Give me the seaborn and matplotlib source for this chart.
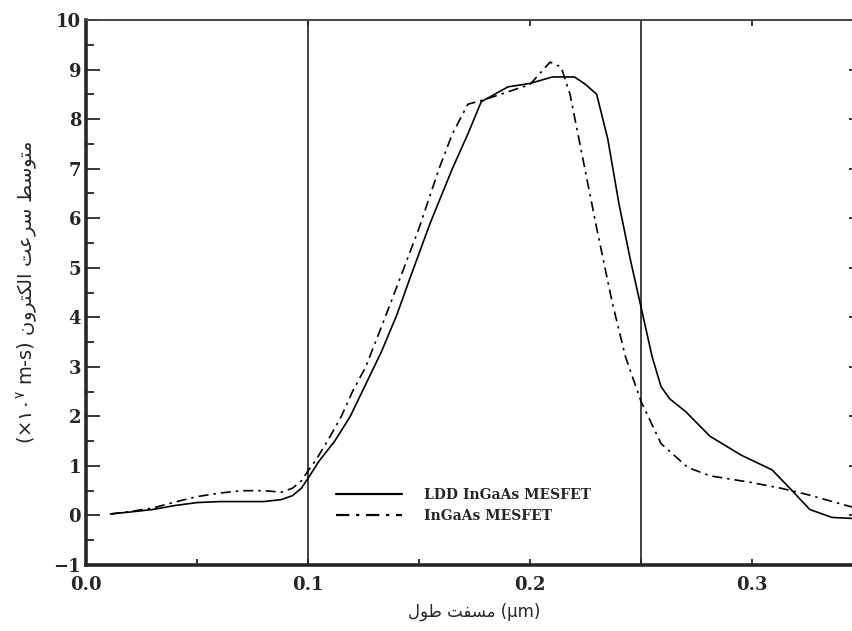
import numpy as np
import pandas as pd
import seaborn as sns
import matplotlib.pyplot as plt
from matplotlib.ticker import MultipleLocator

sns.set_style('ticks')
plt.rcParams['font.family'] = ['DejaVu Serif', 'DejaVu Sans']

# values
ldd_x = [0.011, 0.02, 0.03, 0.04, 0.05, 0.06, 0.07, 0.08, 0.088, 0.093, 0.097, 0.1,
         0.105, 0.112, 0.119, 0.126, 0.133, 0.14, 0.146, 0.155, 0.165, 0.172, 0.178, 0.19,
         0.2, 0.21, 0.22, 0.225, 0.23, 0.235, 0.24, 0.245, 0.25, 0.255, 0.259,
         0.263, 0.27, 0.281, 0.295, 0.309, 0.317, 0.326, 0.336, 0.345]
ldd_y = [0.03, 0.07, 0.12, 0.2, 0.26, 0.28, 0.28, 0.28, 0.32, 0.4, 0.55, 0.75,
         1.1, 1.5, 2.0, 2.65, 3.3, 4.05, 4.8, 5.9, 7.0, 7.7, 8.35, 8.65,
         8.72, 8.85, 8.85, 8.7, 8.5, 7.6, 6.3, 5.2, 4.2, 3.2, 2.6,
         2.35, 2.1, 1.6, 1.22, 0.92, 0.55, 0.12, -0.04, -0.06]

mes_x = [0.011, 0.02, 0.03, 0.04, 0.05, 0.06, 0.07, 0.08, 0.088, 0.093, 0.097, 0.1,
         0.104, 0.11, 0.115, 0.12, 0.126, 0.133, 0.139, 0.15, 0.159, 0.165, 0.172,
         0.18, 0.19, 0.2, 0.205, 0.209, 0.214, 0.218, 0.222, 0.226, 0.23, 0.237,
         0.243, 0.25, 0.259, 0.271, 0.281, 0.299, 0.313, 0.325, 0.345]
mes_y = [0.03, 0.08, 0.15, 0.27, 0.38, 0.45, 0.5, 0.5, 0.47, 0.55, 0.7, 0.9,
         1.15, 1.6, 2.0, 2.5, 3.0, 3.8, 4.5, 5.8, 7.0, 7.7, 8.3,
         8.4, 8.55, 8.7, 8.95, 9.15, 9.05, 8.5, 7.6, 6.7, 5.8, 4.3,
         3.2, 2.3, 1.45, 0.97, 0.8, 0.67, 0.55, 0.42, 0.17]

labels = ['LDD InGaAs MESFET', 'InGaAs MESFET']
region_x = [0.1, 0.25]


# tiny arabic shaper: (isolated, final, initial, medial)
FORMS = {
    'ا': ('\uFE8D', '\uFE8E', None, None),
    'ر': ('\uFEAD', '\uFEAE', None, None),
    'و': ('\uFEED', '\uFEEE', None, None),
    'ل': ('\uFEDD', '\uFEDE', '\uFEDF', '\uFEE0'),
    'ک': ('\uFB8E', '\uFB8F', '\uFB90', '\uFB91'),
    'ت': ('\uFE95', '\uFE96', '\uFE97', '\uFE98'),
    'ن': ('\uFEE5', '\uFEE6', '\uFEE7', '\uFEE8'),
    'س': ('\uFEB1', '\uFEB2', '\uFEB3', '\uFEB4'),
    'ع': ('\uFEC9', '\uFECA', '\uFECB', '\uFECC'),
    'م': ('\uFEE1', '\uFEE2', '\uFEE3', '\uFEE4'),
    'ط': ('\uFEC1', '\uFEC2', '\uFEC3', '\uFEC4'),
    'ف': ('\uFED1', '\uFED2', '\uFED3', '\uFED4'),
}


def shape(word):
    out = []
    for i, ch in enumerate(word):
        prev = word[i - 1] if i > 0 else None
        nxt = word[i + 1] if i < len(word) - 1 else None
        j_prev = prev is not None and FORMS[prev][2] is not None
        j_next = nxt is not None and FORMS[ch][2] is not None
        iso, fin, ini, med = FORMS[ch]
        if j_prev and j_next:
            out.append(med)
        elif j_prev:
            out.append(fin)
        elif j_next:
            out.append(ini)
        else:
            out.append(iso)
    return ''.join(out[::-1])


def rtl(text):
    return ' '.join(shape(w) for w in text.split()[::-1])


df = pd.concat([
    pd.DataFrame({'x': ldd_x, 'y': ldd_y, 'device': labels[0]}),
    pd.DataFrame({'x': mes_x, 'y': mes_y, 'device': labels[1]}),
])

fig = plt.figure(figsize=(8.52, 6.31), dpi=100)
ax = fig.add_axes([0.101, 0.1046, 0.912, 0.8637])

sns.lineplot(data=df, x='x', y='y', style='device', sort=False, estimator=None,
             color='black', linewidth=1.2,
             dashes={labels[0]: '', labels[1]: (6, 3, 1.5, 3)}, ax=ax)

for xv in region_x:
    ax.axvline(xv, color='#333333', lw=1.3, zorder=0)

ax.set_xlim(0, 0.35)
ax.set_ylim(-1, 10)
ax.xaxis.set_major_locator(MultipleLocator(0.1))
ax.xaxis.set_minor_locator(MultipleLocator(0.05))
ax.yaxis.set_major_locator(MultipleLocator(1))
ax.yaxis.set_minor_locator(MultipleLocator(0.5))
ax.set_xticklabels([f'{v:.1f}' for v in ax.get_xticks()])
ax.tick_params(axis='y', which='major', direction='in', length=10, width=1.3,
               right=True, labelsize=13)
ax.tick_params(axis='y', which='minor', direction='in', length=6, width=1.3, right=True)
ax.tick_params(axis='x', which='both', direction='in', length=4, width=1.3,
               top=True, labelsize=13, pad=8)
ax.tick_params(axis='x', which='minor', top=False)
for lab in ax.get_xticklabels() + ax.get_yticklabels():
    lab.set_fontweight('bold')

for s in ['left', 'bottom']:
    ax.spines[s].set_linewidth(2.6)
ax.spines['top'].set_linewidth(1.4)
ax.spines['top'].set_color('#444444')
ax.spines['right'].set_linewidth(1.4)

ylab = '(×۱۰$^{۷}$ m-s) ' + rtl('متوسط سرعت الکترون')
ax.set_ylabel(ylab, family=['DejaVu Sans'], fontsize=14, labelpad=10)
xlab = shape('طول') + ' ' + shape('مسفت') + ' (μm)'
ax.set_xlabel(xlab, family=['DejaVu Sans'], fontsize=12, labelpad=6)

leg = ax.legend(loc='lower left', bbox_to_anchor=(0.305, 0.055), frameon=False,
                handlelength=4.8, handletextpad=1.6, labelspacing=0.45,
                prop={'family': 'DejaVu Serif', 'weight': 'bold', 'size': 10})
for h in leg.get_lines():
    h.set_linewidth(1.6)

fig.savefig('out.png', dpi=100)
